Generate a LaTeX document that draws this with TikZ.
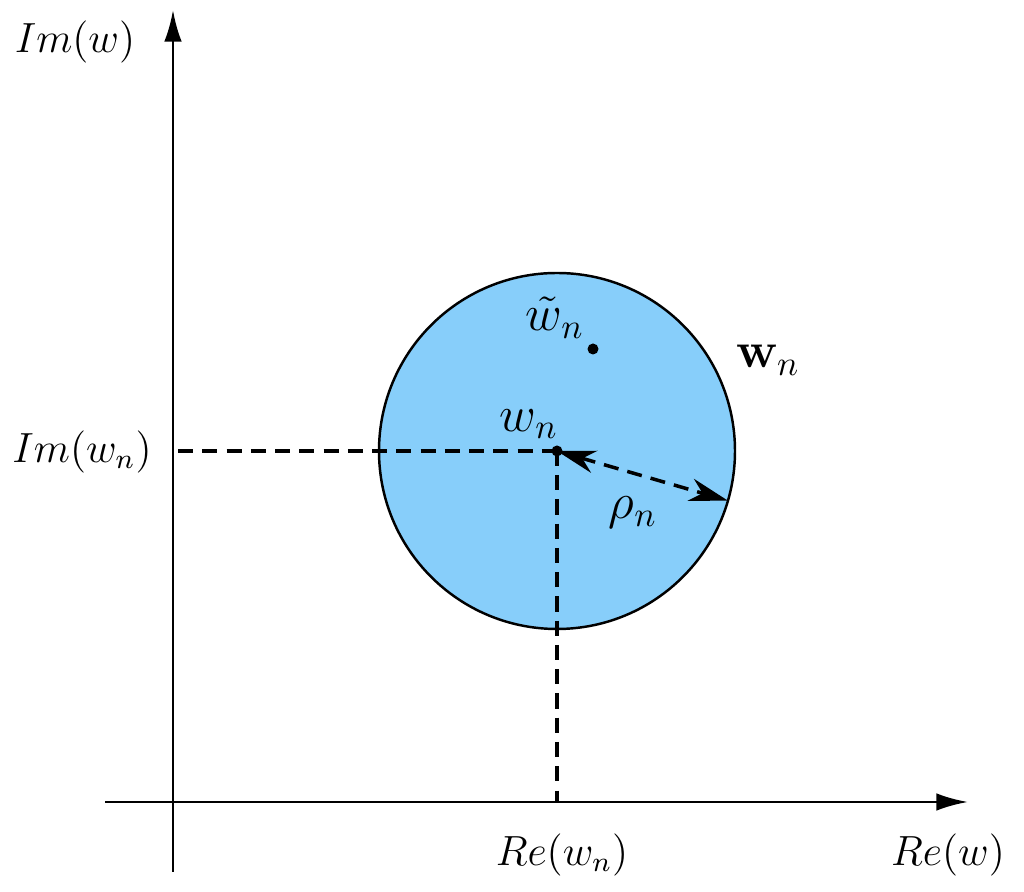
\documentclass[tikz,border=0pt]{standalone}
\usepackage{amsmath}
\usepackage{xcolor}
\usetikzlibrary{positioning}
\usetikzlibrary{arrows.meta,calc}

\definecolor{diskblue}{RGB}{135,206,250}

\tikzset{
  axis/.style={line width=0.8pt, -{Latex[length=9pt,width=5pt]}},
  dashline/.style={line width=1pt, dash pattern=on 4.3pt off 2.6pt},
  radius arrow/.style={dashline, {Stealth[length=11pt,width=6.5pt,inset=3.5pt]}-{Stealth[length=11pt,width=6.5pt,inset=3.5pt]}},
  dot/.style={circle, fill=black, inner sep=0pt, minimum size=0.11cm},
  lab/.style={text centered, font=\large},
  inlab/.style={text centered, font=\Large}
}

\begin{document}
\begin{tikzpicture}
\useasboundingbox (0,0) rectangle (10.24,8.92);

% axes
\coordinate (xl) at (1.05,0.90);
\coordinate (xr) at (9.68,0.90);
\coordinate (yb) at (1.73,0.20);
\coordinate (yt) at (1.73,8.82);
\draw [axis] (xl) -- (xr);
\draw [axis] (yb) -- (yt);

% disk
\draw [fill=diskblue, line width=0.7pt] (5.57,4.41) circle (1.78);
\node [dot] (c) at (5.57,4.41) {};
\node [dot] (wt) at (5.93,5.43) {};
\coordinate (rim) at ($(c)+(-16.2:1.78)$);
\coordinate (imn) at (1.78,4.41);
\coordinate (ren) at (5.57,0.90);

\draw [dashline] (imn) -- (c.center);
\draw [dashline] (c.center) -- (ren);
\draw [radius arrow] (c.center) -- (rim);

\node [lab] at (0.75,8.50) {$Im(w)$};
\node [lab] at (0.82,4.40) {$Im(w_n)$};
\node [lab] at (5.62,0.37) {$Re(w_n)$};
\node [lab] at (9.48,0.37) {$Re(w)$};
\node [inlab] at (5.29,4.68) {$w_n$};
\node [inlab] at (5.55,5.74) {$\tilde{w}_n$};
\node [inlab] at (7.68,5.32) {$\mathbf{w}_n$};
\node [inlab] at (6.33,3.79) {$\rho_n$};

  %\draw [help lines] (0,0) grid (10,8);
\end{tikzpicture}
\end{document}
